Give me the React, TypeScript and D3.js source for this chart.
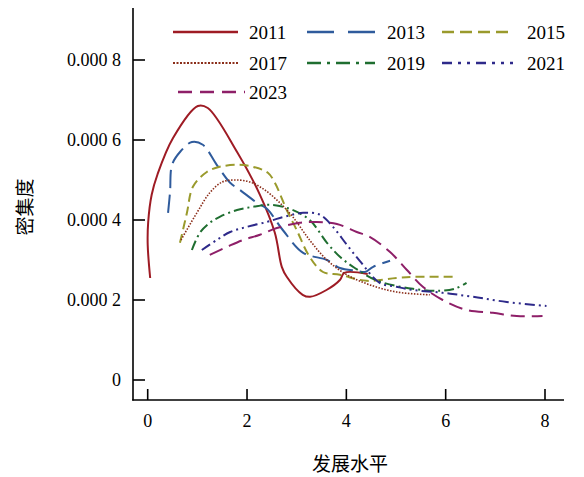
import React from "react";
import * as d3 from "d3";

const xTicks = [0, 2, 4, 6, 8];
const xTickLabels = ["0", "2", "4", "6", "8"];
const yTicks = [0, 0.0002, 0.0004, 0.0006, 0.0008];
const yTickLabels = ["0", "0.000 2", "0.000 4", "0.000 6", "0.000 8"];

const years = ["2011", "2013", "2015", "2017", "2019", "2021", "2023"];

const s2011: [number, number][] = [
  [0.05, 0.000255], [0.0, 0.000338], [0.01, 0.000395], [0.08, 0.000463], [0.2, 0.000515],
  [0.51, 0.000605], [1.01, 0.000685], [1.21, 0.00068], [1.8, 0.00057], [2.26, 0.000463],
  [2.56, 0.000368], [2.7, 0.000283], [2.8, 0.000258], [3.12, 0.000213], [3.27, 0.000208],
  [3.6, 0.000225], [3.87, 0.00025], [3.96, 0.000268], [4.43, 0.000265],
];
const s2013: [number, number][] = [
  [0.41, 0.000418], [0.45, 0.00047], [0.49, 0.000538], [0.65, 0.00057], [0.89, 0.000595],
  [1.11, 0.000588], [1.39, 0.000538], [1.66, 0.000493], [1.86, 0.000475], [2.2, 0.000443],
  [2.4, 0.000428], [2.72, 0.000375], [3.13, 0.000318], [3.61, 0.0003], [3.87, 0.00028],
  [4.21, 0.000273], [4.37, 0.00027], [4.54, 0.000283], [4.88, 0.000298],
];
const s2015: [number, number][] = [
  [0.65, 0.000343], [0.79, 0.000418], [0.91, 0.000483], [1.19, 0.00052], [1.45, 0.000533],
  [1.8, 0.000538], [2.12, 0.000533], [2.42, 0.000518], [2.56, 0.000493], [2.8, 0.000425],
  [3.0, 0.000375], [3.26, 0.000308], [3.53, 0.00027], [3.87, 0.000263], [4.41, 0.000248],
  [5.01, 0.000255], [5.42, 0.000258], [6.14, 0.000258],
];
const s2017: [number, number][] = [
  [0.67, 0.00035], [0.99, 0.000418], [1.25, 0.000468], [1.5, 0.000495], [1.76, 0.0005],
  [2.06, 0.000495], [2.36, 0.000475], [2.66, 0.000443], [2.92, 0.000408], [3.26, 0.00035],
  [3.61, 0.0003], [4.01, 0.000263], [4.47, 0.000238], [5.01, 0.00022], [5.68, 0.000213],
];
const s2019: [number, number][] = [
  [0.89, 0.000325], [1.05, 0.000368], [1.25, 0.000393], [1.45, 0.000408], [1.8, 0.000425],
  [2.12, 0.000433], [2.46, 0.000438], [2.86, 0.000428], [3.26, 0.0004], [3.61, 0.000343],
  [3.87, 0.000308], [4.17, 0.00028], [4.63, 0.000248], [5.34, 0.000228], [5.88, 0.000223],
  [6.18, 0.000228], [6.42, 0.000243],
];
const s2021: [number, number][] = [
  [1.09, 0.000325], [1.39, 0.00035], [1.66, 0.00037], [2.0, 0.000383], [2.4, 0.000395],
  [2.66, 0.000405], [3.13, 0.000418], [3.47, 0.000413], [3.73, 0.000383], [4.01, 0.000338],
  [4.27, 0.000298], [4.67, 0.000243], [5.01, 0.000233], [5.34, 0.000225], [5.94, 0.000218],
  [6.55, 0.000208], [7.23, 0.000195], [8.03, 0.000185],
];
const s2023: [number, number][] = [
  [1.25, 0.000313], [1.6, 0.000333], [1.92, 0.00035], [2.26, 0.000363], [2.6, 0.00038],
  [3.06, 0.000393], [3.4, 0.000395], [3.81, 0.00039], [4.21, 0.00037], [4.47, 0.000358],
  [4.88, 0.00032], [5.22, 0.000275], [5.54, 0.000233], [5.94, 0.0002], [6.42, 0.000175],
  [6.95, 0.000168], [7.43, 0.00016], [7.95, 0.00016],
];

const seriesData = [s2011, s2013, s2015, s2017, s2019, s2021, s2023];
const colors = ["#9e1b24", "#2f5b9c", "#9a9a2c", "#8b2e1a", "#1f6e30", "#2e2a8a", "#8e1f68"];
const dashes = ["none", "18,7", "9,5", "1.5,1.5", "10,4,2,4", "10,4,2,4,2,4", "14,7"];
const widths = [2, 2, 2, 1.6, 2, 2, 2];

const legendPos = [
  [173, 238, 249, 32],
  [307, 375, 387, 32],
  [442, 513, 527, 32],
  [173, 238, 249, 63],
  [307, 375, 387, 63],
  [442, 513, 527, 63],
  [178, 245, 249, 92],
];
const legendDash = ["none", "27,14", "12,6", "2,1.5", "14,6,3,6", "10,6,3,6,3,6", "14,8"];

export default function App() {
  const x = d3.scaleLinear().domain([0, 8]).range([147.7, 545]);
  const y = d3.scaleLinear().domain([0, 0.0008]).range([380, 60]);
  const line = d3
    .line<[number, number]>()
    .x((d) => x(d[0]))
    .y((d) => y(d[1]))
    .curve(d3.curveCatmullRom.alpha(0.5));

  const serif = "Liberation Serif";
  const cjk = "Noto Sans CJK SC";

  return (
    <div>
      <svg width={584} height={477} style={{ position: "absolute", left: 0, top: 0, background: "#fff" }}>
        <rect width={584} height={477} fill="#fff" />
        <line x1={133} y1={8} x2={133} y2={400.5} stroke="#000" strokeWidth={1.6} />
        <line x1={132.2} y1={400} x2={564} y2={400} stroke="#000" strokeWidth={1.6} />
        {yTicks.map((t, i) => (
          <g key={"y" + i}>
            <line x1={133} x2={145} y1={y(t)} y2={y(t)} stroke="#000" strokeWidth={1.6} />
            <text x={121} y={y(t)} dy="0.35em" textAnchor="end" fontFamily={serif} fontSize={18} fill="#000">
              {yTickLabels[i]}
            </text>
          </g>
        ))}
        {xTicks.map((t, i) => (
          <g key={"x" + i}>
            <line x1={x(t)} x2={x(t)} y1={400} y2={389} stroke="#000" strokeWidth={1.6} />
            <text x={x(t)} y={421} dy="0.35em" textAnchor="middle" fontFamily={serif} fontSize={18} fill="#000">
              {xTickLabels[i]}
            </text>
          </g>
        ))}
        <text x={350} y={464} dy="0.35em" textAnchor="middle" fontFamily={cjk} fontSize={19} fill="#000">
          发展水平
        </text>
        <text transform="translate(25,207) rotate(-90)" textAnchor="middle" dy="0.35em" fontFamily={cjk} fontSize={19} fill="#000">
          密集度
        </text>
        {seriesData.map((s, i) => (
          <path key={"s" + i} d={line(s) || ""} fill="none" stroke={colors[i]} strokeWidth={widths[i]} strokeDasharray={dashes[i]} />
        ))}
        {years.map((yr, i) => {
          const [x1, x2, tx, ly] = legendPos[i];
          return (
            <g key={"l" + i}>
              <line x1={x1} x2={x2} y1={ly} y2={ly} stroke={colors[i]} strokeWidth={widths[i] + 0.3} strokeDasharray={legendDash[i]} />
              <text x={tx} y={ly} dy="0.35em" fontFamily={serif} fontSize={19} fill="#000">
                {yr}
              </text>
            </g>
          );
        })}
      </svg>
    </div>
  );
}
